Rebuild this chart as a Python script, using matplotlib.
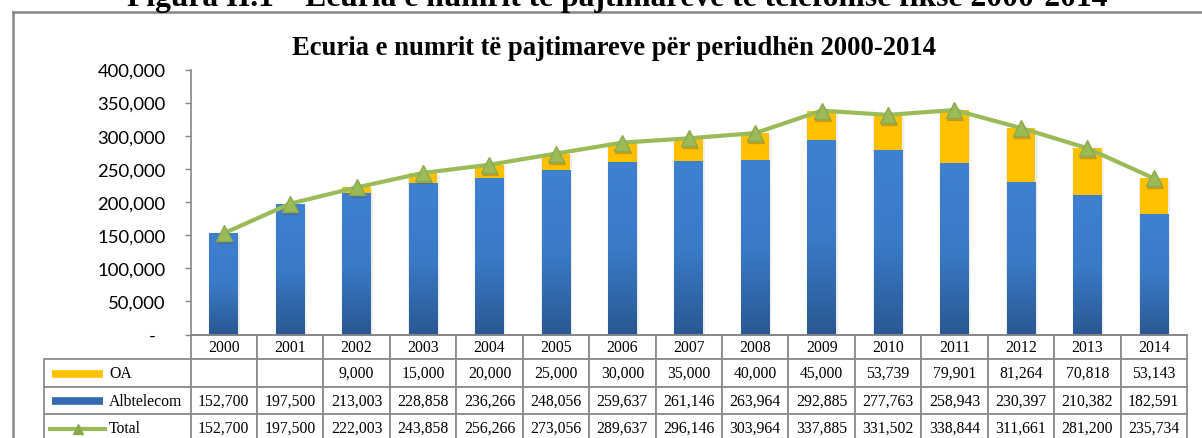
import numpy as np
import matplotlib.pyplot as plt
from matplotlib.table import Table
from matplotlib.lines import Line2D
from matplotlib.ticker import FuncFormatter
from matplotlib.colors import LinearSegmentedColormap
from matplotlib.transforms import offset_copy

years = [str(y) for y in range(2000, 2015)]
oa = [None, None, 9000, 15000, 20000, 25000, 30000, 35000, 40000, 45000,
      53739, 79901, 81264, 70818, 53143]
albtelecom = [152700, 197500, 213003, 228858, 236266, 248056, 259637, 261146,
              263964, 292885, 277763, 258943, 230397, 210382, 182591]
total = [152700, 197500, 222003, 243858, 256266, 273056, 289637, 296146,
         303964, 337885, 331502, 338844, 311661, 281200, 235734]

W, H = 1202, 439
SERIF = "Liberation Serif"


def fx(px):
    return px / W


def fy(py):
    return 1 - py / H


fig = plt.figure(figsize=(W / 100, H / 100), dpi=100)
ax = fig.add_axes([fx(190.5), fy(335.5), 996.5 / W, 265 / H])

x = np.arange(len(years))
oa_vals = [v or 0 for v in oa]
bw = 0.43

# soft shadow behind the bars
for k, a in [(0.05, 0.06), (0.03, 0.08)]:
    ax.bar(x + 0.01, total, width=bw + k, bottom=-2500, color="#7f7f7f",
           alpha=a, zorder=1, linewidth=0)

blue = ax.bar(x, albtelecom, width=bw, color="#3573BE", zorder=2, linewidth=0)
cmap = LinearSegmentedColormap.from_list("blue", ["#2A5893", "#3A7BC8", "#3E81D0"])
grad = np.linspace(0, 1, 256).reshape(-1, 1)
for rect in blue:
    x0, h = rect.get_x(), rect.get_height()
    im = ax.imshow(grad, extent=[x0, x0 + bw, 0, h], origin="lower", cmap=cmap,
                   aspect="auto", zorder=2.1)
    im.set_clip_path(rect)

ax.bar(x, oa_vals, bottom=albtelecom, width=bw, color="#FFC000", zorder=2,
       linewidth=0)

# marker shadow then the total line
shadow = offset_copy(ax.transData, fig=fig, x=1, y=-2, units="dots")
ax.plot(x, total, linestyle="none", marker="^", ms=12, color="#555555",
        alpha=0.25, transform=shadow, zorder=3, clip_on=False)
ax.plot(x, total, color="#9BBB59", lw=3, marker="^", ms=11, mfc="#9BBB59",
        mec="#8AAA4D", mew=1, zorder=4, clip_on=False)

ax.set_xlim(-0.5, len(years) - 0.5)
ax.set_ylim(0, 400000)
ax.set_yticks(np.arange(0, 400001, 50000))
ax.yaxis.set_major_formatter(FuncFormatter(lambda v, p: "-  " if v == 0 else f"{v:,.0f}"))
ax.set_xticks([])
for s in ["top", "right"]:
    ax.spines[s].set_visible(False)
for s in ["left", "bottom"]:
    ax.spines[s].set_color("#868686")
    ax.spines[s].set_linewidth(1.2)
ax.tick_params(axis="y", direction="out", length=4.5, width=1, color="#868686",
               labelsize=13.3, pad=13.5)
for lab in ax.get_yticklabels():
    lab.set_fontfamily("Lato")

# data table under the axis
hdr_h = 24.5 / 265
row_h = 27.5 / 265
cw = 1 / len(years)
lab_w = 146.5 / 996.5
tab = Table(ax, bbox=[0, -(hdr_h + 3 * row_h), 1, hdr_h + 3 * row_h])
for j, yr in enumerate(years):
    tab.add_cell(0, j, cw, hdr_h, text=yr, loc="center")
for i, vals in enumerate([oa, albtelecom, total]):
    tab.add_cell(i + 1, -1, lab_w, row_h, text="")
    for j, v in enumerate(vals):
        tab.add_cell(i + 1, j, cw, row_h, text="" if v is None else f"{v:,}",
                     loc="center")
tab.auto_set_font_size(False)
for cell in tab.get_celld().values():
    cell.set_edgecolor("#8C8C8C")
    cell.set_linewidth(1.3)
    cell.get_text().set_fontfamily(SERIF)
    cell.get_text().set_fontsize(11.3)
ax.add_table(tab)

# legend keys inside the table
for name, yc, col in [("OA", 374.5, "#FFC000"), ("Albtelecom", 402, "#3569B0")]:
    fig.add_artist(Line2D([fx(52), fx(103)], [fy(yc)] * 2, lw=5.5, color=col,
                          solid_capstyle="butt", transform=fig.transFigure))
    fig.text(fx(109), fy(yc), name, ha="left", va="center", family=SERIF,
             size=11.3)
fig.add_artist(Line2D([fx(50), fx(105)], [fy(429.5)] * 2, lw=3, color="#9BBB59",
                      transform=fig.transFigure))
fig.add_artist(Line2D([fx(77.5)], [fy(429.5)], marker="^", ms=7, color="#8AAA4D",
                      transform=fig.transFigure))
fig.text(fx(109), fy(429.5), "Total", ha="left", va="center", family=SERIF,
         size=11.3)

# chart frame (left and top edges visible)
fig.add_artist(Line2D([fx(13), 1], [fy(13)] * 2, lw=1.8, color="#878787",
                      transform=fig.transFigure))
fig.add_artist(Line2D([fx(13)] * 2, [fy(13), 0], lw=1.8, color="#878787",
                      transform=fig.transFigure))

fig.text(fx(613.5), fy(55), "Ecuria e numrit të pajtimareve për periudhën 2000-2014",
         ha="center", va="baseline", family=SERIF, weight="bold", size=19.2)
fig.text(fx(617), fy(6), "Figura II.1 – Ecuria e numrit të pajtimarëve të telefonisë fikse 2000-2014",
         ha="center", va="baseline", family=SERIF, weight="bold", size=22.7)

fig.savefig("out.png", dpi=100)
